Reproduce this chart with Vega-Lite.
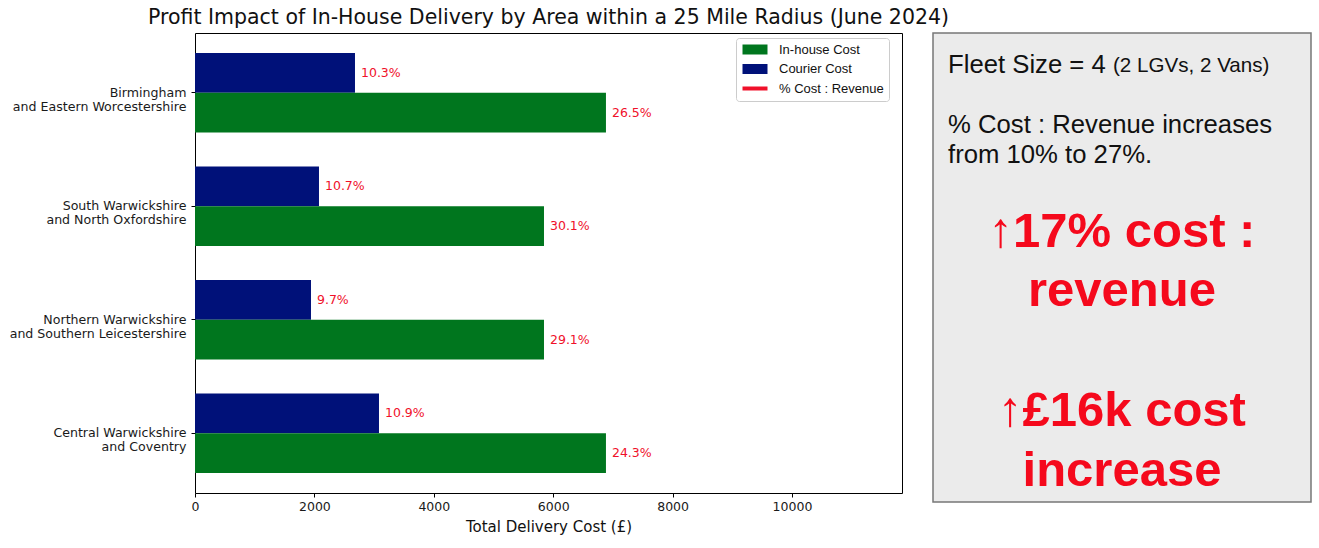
{
  "$schema": "https://vega.github.io/schema/vega-lite/v6.json",
  "padding": {"left": 8, "top": 7, "right": 8, "bottom": 5},
  "background": "white",
  "config": {"font": "DejaVu Sans", "view": {"stroke": null}},
  "spacing": 31,
  "bounds": "flush",
  "hconcat": [
    {
      "width": 707,
      "height": 460,
      "title": {"text": "Profit Impact of In-House Delivery by Area within a 25 Mile Radius (June 2024)", "frame": "group", "anchor": "middle", "fontSize": 20.5, "fontWeight": "normal", "font": "DejaVu Sans", "color": "#111111", "offset": 5},
      "view": {"stroke": "black", "strokeWidth": 1},
      "data": {"values": [
        {"area": "Birmingham\nand Eastern Worcestershire", "series": "Courier Cost", "cost": 2680, "pct": 0.103},
        {"area": "Birmingham\nand Eastern Worcestershire", "series": "In-house Cost", "cost": 6884, "pct": 0.265},
        {"area": "South Warwickshire\nand North Oxfordshire", "series": "Courier Cost", "cost": 2077, "pct": 0.107},
        {"area": "South Warwickshire\nand North Oxfordshire", "series": "In-house Cost", "cost": 5846, "pct": 0.301},
        {"area": "Northern Warwickshire\nand Southern Leicestershire", "series": "Courier Cost", "cost": 1943, "pct": 0.097},
        {"area": "Northern Warwickshire\nand Southern Leicestershire", "series": "In-house Cost", "cost": 5846, "pct": 0.291},
        {"area": "Central Warwickshire\nand Coventry", "series": "Courier Cost", "cost": 3082, "pct": 0.109},
        {"area": "Central Warwickshire\nand Coventry", "series": "In-house Cost", "cost": 6884, "pct": 0.243}
      ]},
      "encoding": {
        "y": {"field": "area", "type": "nominal", "sort": null,
          "scale": {"paddingInner": 0.3, "paddingOuter": 0.177},
          "axis": {"title": null, "domain": false, "grid": false, "labelExpr": "split(datum.label, '\\n')", "labelFontSize": 12.6, "labelLineHeight": 14, "labelColor": "#1a1a1a", "tickColor": "black", "tickSize": 4, "labelPadding": 5, "labelLimit": 400}},
        "yOffset": {"field": "series", "type": "nominal", "sort": ["Courier Cost", "In-house Cost"], "scale": {"paddingInner": 0, "paddingOuter": 0}},
        "x": {"field": "cost", "type": "quantitative", "scale": {"domain": [0, 11843], "nice": false},
          "axis": {"title": "Total Delivery Cost (£)", "titleFontSize": 15, "titleFontWeight": "normal", "titleColor": "#111111", "values": [0, 2000, 4000, 6000, 8000, 10000], "format": "d", "labelFontSize": 12.5, "labelColor": "#1a1a1a", "tickSize": 4, "tickColor": "black", "domain": false, "grid": false, "labelPadding": 3, "titlePadding": 7, "labelFlush": false}}
      },
      "layer": [
        {
          "mark": {"type": "bar"},
          "encoding": {
            "color": {"field": "series", "type": "nominal",
              "scale": {"domain": ["In-house Cost", "Courier Cost", "% Cost : Revenue"], "range": ["#00761e", "#001179", "#f0102a"]},
              "legend": {"title": null, "orient": "none", "legendX": 541, "legendY": 5, "fillColor": "white", "strokeColor": "#cccccc", "cornerRadius": 3, "padding": 5, "labelFont": "Liberation Sans", "labelFontSize": 13, "labelColor": "#111111", "symbolSize": 100, "symbolType": "M-1,-1H4V1H-1Z", "symbolStrokeWidth": 0, "rowPadding": 5.5, "labelOffset": 25,
                "encode": {"symbols": {"update": {"shape": {"signal": "datum.value === '% Cost : Revenue' ? 'M-1,-0.4H4V0.4H-1Z' : 'M-1,-1H4V1H-1Z'"}}}}}}
          }
        },
        {
          "mark": {"type": "text", "align": "left", "baseline": "middle", "dx": 6, "fontSize": 12.5, "font": "DejaVu Sans"},
          "encoding": {
            "text": {"field": "pct", "type": "quantitative", "format": ".1%"},
            "color": {"datum": "% Cost : Revenue", "type": "nominal"}
          }
        }
      ]
    },
    {
      "width": 378,
      "height": 469,
      "view": {"fill": "#ebebeb", "stroke": "#777777", "strokeWidth": 1.5},
      "data": {"values": [
        {"line": 0, "kind": "note", "text": "Fleet Size = 4"},
        {"line": 0, "kind": "aside", "text": "(2 LGVs, 2 Vans)"},
        {"line": 2, "kind": "note", "text": "% Cost : Revenue increases"},
        {"line": 3, "kind": "note", "text": "from 10% to 27%."},
        {"line": 6, "kind": "headline", "text": "↑17% cost :"},
        {"line": 8, "kind": "headline", "text": "revenue"},
        {"line": 12, "kind": "headline", "text": "↑£16k cost"},
        {"line": 14, "kind": "headline", "text": "increase"}
      ]},
      "encoding": {
        "y": {"field": "line", "type": "quantitative", "scale": {"domain": [-1.067, 14.567], "reverse": true}, "axis": null}
      },
      "layer": [
        {
          "transform": [{"filter": "datum.kind === 'note'"}],
          "mark": {"type": "text", "align": "left", "baseline": "middle", "dx": -174, "font": "Liberation Sans", "fontSize": 25.7, "color": "#111111"},
          "encoding": {"text": {"field": "text"}}
        },
        {
          "transform": [{"filter": "datum.kind === 'aside'"}],
          "mark": {"type": "text", "align": "left", "baseline": "middle", "dx": -9, "dy": 1, "font": "Liberation Sans", "fontSize": 20.6, "color": "#111111"},
          "encoding": {"text": {"field": "text"}}
        },
        {
          "transform": [{"filter": "datum.kind === 'headline'"}],
          "mark": {"type": "text", "align": "center", "baseline": "middle", "dy": -13.5, "font": "Liberation Sans", "fontSize": 49, "fontWeight": "bold", "color": "#f5091c"},
          "encoding": {"text": {"field": "text"}}
        }
      ]
    }
  ]
}
